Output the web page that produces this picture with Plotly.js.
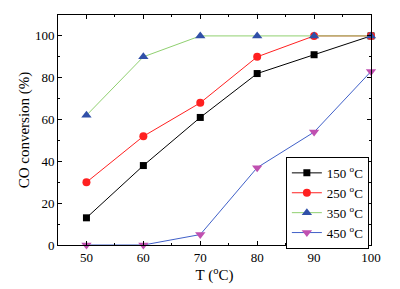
<!DOCTYPE html>
<html><head><meta charset="utf-8">
<script src="https://cdn.plot.ly/plotly-3.0.1.min.js"></script>
<style>html,body{margin:0;padding:0;background:#fff;}#chart{width:400px;height:289px;}</style>
</head><body><div id="chart"></div>
<script>
const temps = [50, 60, 70, 80, 90, 100];
const seriesNames = ["150 <sup>o</sup>C", "250 <sup>o</sup>C", "350 <sup>o</sup>C", "450 <sup>o</sup>C"];
const conv150 = [13, 38, 61, 82, 91, 100];
const conv250 = [30, 52, 68, 90, 100, 100];
const conv350 = [62, 90, 100, 100, 100, 100];
const conv450 = [0, 0, 5, 37, 54, 83];
const xTicks = [50, 60, 70, 80, 90, 100];
const yTicks = [0, 20, 40, 60, 80, 100];

const styles = [
  {line: "#000000", marker: "#000000", symbol: "square", size: 7},
  {line: "#ff2020", marker: "#ff2020", symbol: "circle", size: 8},
  {line: "#90d070", marker: "#3050a8", symbol: "triangle-up", size: 9},
  {line: "#4060c8", marker: "#c050b0", symbol: "triangle-down", size: 9}
];
const values = [conv150, conv250, conv350, conv450];
const traces = values.map((v, i) => ({
  x: temps, y: v, name: seriesNames[i], type: "scatter", mode: "lines+markers",
  line: {color: styles[i].line, width: 1},
  marker: {color: styles[i].marker, symbol: styles[i].symbol, size: styles[i].size},
  cliponaxis: false
}));

const font = {family: "Liberation Serif", color: "#000"};
const layout = {
  width: 400, height: 289,
  margin: {l: 58, r: 29, t: 15, b: 44},
  paper_bgcolor: "#fff", plot_bgcolor: "#fff",
  font: Object.assign({size: 13}, font),
  showlegend: true,
  legend: {x: 0.728, y: 0.383, xanchor: "left", yanchor: "top",
    bordercolor: "#000", borderwidth: 1, bgcolor: "#fff",
    font: Object.assign({size: 13}, font), tracegroupgap: 0, itemwidth: 30},
  xaxis: {range: [45, 100], tickvals: xTicks, ticks: "inside", ticklen: 4, tickcolor: "#000",
    showline: true, linecolor: "#000", linewidth: 1, mirror: "allticks", showgrid: false, zeroline: false,
    minor: {ticks: "inside", ticklen: 2, dtick: 5, tickcolor: "#000", showgrid: false},
    tickfont: Object.assign({size: 13}, font),
    title: {text: "T (<sup>o</sup>C)", font: Object.assign({size: 15}, font), standoff: 4}},
  yaxis: {range: [0, 110], tickvals: yTicks, ticks: "inside", ticklen: 4, tickcolor: "#000",
    showline: true, linecolor: "#000", linewidth: 1, mirror: "allticks", showgrid: false, zeroline: false,
    minor: {ticks: "inside", ticklen: 2, dtick: 10, tickcolor: "#000", showgrid: false},
    tickfont: Object.assign({size: 13}, font),
    title: {text: "CO conversion (%)", font: Object.assign({size: 15}, font), standoff: 1}}
};
Plotly.newPlot("chart", traces, layout, {staticPlot: true});
</script></body></html>
